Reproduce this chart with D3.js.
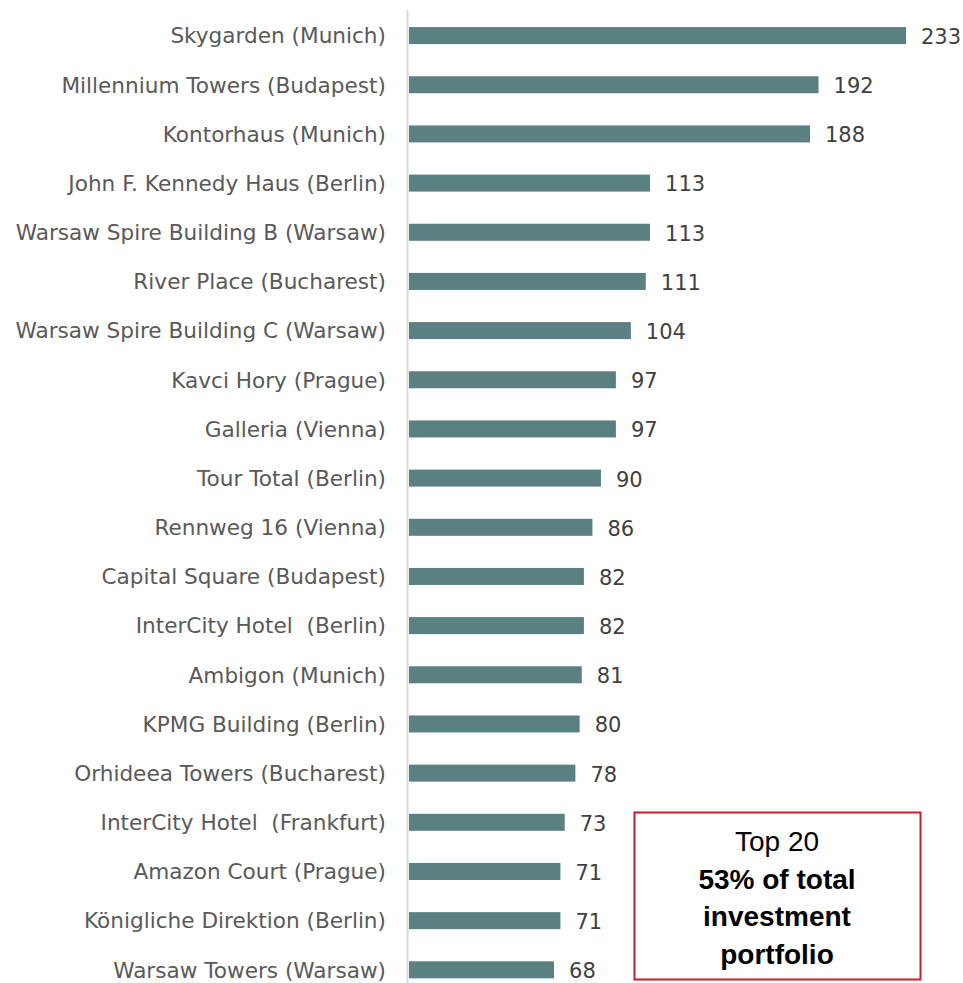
<!DOCTYPE html>
<html>
<head>
<meta charset="utf-8">
<script src="https://cdn.jsdelivr.net/npm/d3@7"></script>
<style>
  body { margin: 0; background: #fff; }
</style>
</head>
<body>
<div id="chart"></div>
<script>
// donnees du graphique
var buildings = [
  "Skygarden (Munich)", "Millennium Towers (Budapest)", "Kontorhaus (Munich)",
  "John F. Kennedy Haus (Berlin)", "Warsaw Spire Building B (Warsaw)", "River Place (Bucharest)",
  "Warsaw Spire Building C (Warsaw)", "Kavci Hory (Prague)", "Galleria (Vienna)",
  "Tour Total (Berlin)", "Rennweg 16 (Vienna)", "Capital Square (Budapest)",
  "InterCity Hotel  (Berlin)", "Ambigon (Munich)", "KPMG Building (Berlin)",
  "Orhideea Towers (Bucharest)", "InterCity Hotel  (Frankfurt)", "Amazon Court (Prague)",
  "Königliche Direktion (Berlin)", "Warsaw Towers (Warsaw)"
];
var values = [233, 192, 188, 113, 113, 111, 104, 97, 97, 90, 86, 82, 82, 81, 80, 78, 73, 71, 71, 68];
var boxLines = ["Top 20", "53% of total", "investment", "portfolio"];

const width = 963, height = 983;

var svg = d3.select("#chart")
  .append("svg")
  .attr("width", width)
  .attr("height", height);

var x = d3.scaleLinear()
  .domain([0, 233])
  .range([409, 906]);

var y = d3.scaleBand()
  .domain(buildings)
  .range([11, 994.4])
  .paddingInner(0.654)
  .paddingOuter(0.327);

// axe vertical gris
svg.append("line")
  .attr("x1", 407.5).attr("x2", 407.5)
  .attr("y1", 10).attr("y2", height)
  .style("stroke", "#d9d9d9")
  .style("stroke-width", 2);

// barres
svg.selectAll(".bar")
  .data(values)
  .join("rect")
  .attr("class", "bar")
  .attr("x", x(0))
  .attr("y", function (d, i) { return y(buildings[i]); })
  .attr("width", function (d) { return x(d) - x(0); })
  .attr("height", y.bandwidth())
  .style("fill", "#5b8081");

// noms des immeubles
svg.selectAll(".name")
  .data(buildings)
  .join("text")
  .attr("class", "name")
  .attr("x", 386)
  .attr("y", function (d) { return y(d) + y.bandwidth() / 2; })
  .attr("dy", "0.36em")
  .attr("text-anchor", "end")
  .style("font-family", "'DejaVu Sans', Verdana, sans-serif")
  .style("font-size", "21.6px")
  .style("fill", "#595959")
  .style("white-space", "pre")
  .text(function (d) { return d; });

// valeurs
svg.selectAll(".val")
  .data(values)
  .join("text")
  .attr("class", "val")
  .attr("x", function (d) { return x(d) + 15; })
  .attr("y", function (d, i) { return y(buildings[i]) + y.bandwidth() / 2; })
  .attr("dy", "0.4em")
  .style("font-family", "'DejaVu Sans', Verdana, sans-serif")
  .style("font-size", "21px")
  .style("fill", "#404040")
  .text(function (d) { return d; });

// encadre
var box = svg.append("g");
box.append("rect")
  .attr("x", 634.5).attr("y", 812.5)
  .attr("width", 286).attr("height", 167)
  .style("fill", "#fff")
  .style("stroke", "#c0202a")
  .style("stroke-width", 2);

box.selectAll("text")
  .data(boxLines)
  .join("text")
  .attr("x", 777)
  .attr("y", function (d, i) { return 851 + i * 37.7; })
  .attr("text-anchor", "middle")
  .style("font-family", "'Liberation Sans', Arial, sans-serif")
  .style("font-size", "28px")
  .style("font-weight", function (d, i) { return i == 0 ? "normal" : "bold"; })
  .style("fill", "#000")
  .text(function (d) { return d; });
</script>
</body>
</html>
